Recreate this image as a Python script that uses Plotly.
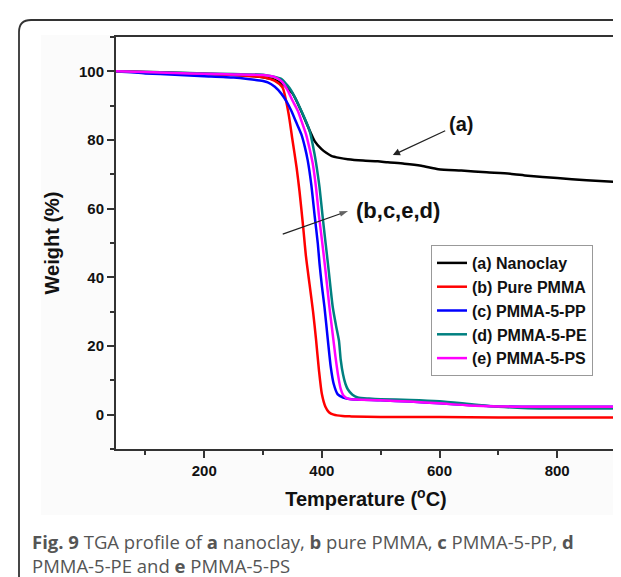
import plotly.graph_objects as go

# ---------------- data ----------------
names = ["(a) Nanoclay", "(b) Pure PMMA", "(c) PMMA-5-PP", "(d) PMMA-5-PE", "(e) PMMA-5-PS"]
colors = ["#000000", "#ff0000", "#0000ff", "#008080", "#ff00ff"]

t_a = [50, 100, 150, 200, 250, 300, 320, 335, 350, 365, 380, 388, 399, 408, 416, 430, 444, 470,
       495, 512, 540, 569, 598, 637, 680, 720, 750, 800, 850, 900]
w_a = [100, 99.8, 99.6, 99.3, 99.0, 98.3, 97.5, 96.0, 93.6, 88.4, 82.5, 79.6, 77.4, 76.2, 75.4,
       74.8, 74.4, 74.0, 73.8, 73.5, 73.1, 72.5, 71.5, 71.1, 70.6, 70.2, 69.6, 68.9, 68.3, 67.8]

t_b = [50, 100, 150, 200, 250, 300, 320, 333, 343, 350, 357, 362, 368, 373, 379, 385, 390, 395,
       400, 406, 412, 420, 435, 450, 500, 600, 700, 800, 900]
w_b = [100, 99.7, 99.4, 99.2, 98.9, 98.3, 97.2, 95.3, 88.0, 80.0, 72.0, 65.0, 55.0, 46.0, 38.0,
       30.0, 22.0, 13.0, 6.0, 2.3, 0.7, 0.0, -0.4, -0.5, -0.7, -0.7, -0.8, -0.8, -0.8]

t_c = [50, 100, 150, 200, 250, 274, 300, 308, 320, 331, 340, 348, 356, 365, 371, 376, 382, 388,
       393, 396, 400, 404.5, 410, 415, 420, 427, 436, 450, 500, 550, 600, 650, 700, 750, 800, 900]
w_c = [100, 99.4, 99.0, 98.6, 98.2, 97.8, 97.2, 96.8, 95.5, 93.5, 91.2, 88.5, 85.3, 81.7, 78.0,
       74.0, 67.0, 57.5, 50.0, 44.0, 37.5, 31.2, 22.0, 14.0, 9.0, 5.9, 5.0, 4.5, 4.2, 3.8, 3.3,
       2.8, 2.4, 2.3, 2.3, 2.3]

t_d = [50, 100, 150, 200, 250, 300, 331, 340, 348, 356, 365, 372, 379, 387.5, 393, 396, 402, 411,
       418.6, 424, 429, 432, 436, 440, 444, 452, 461, 480, 500, 550, 600, 650, 700, 750, 800, 900]
w_d = [100, 99.8, 99.6, 99.4, 99.2, 99.0, 97.8, 96.2, 94.4, 91.8, 88.5, 85.8, 82.7, 75.9, 70.0,
       66.2, 56.5, 42.9, 31.2, 26.0, 21.6, 16.0, 11.7, 9.0, 7.4, 5.8, 5.0, 4.7, 4.5, 4.3, 3.9,
       3.1, 2.3, 1.9, 1.8, 1.8]

t_e = [50, 100, 150, 200, 250, 300, 320, 332, 342, 350, 359, 366, 373, 379, 384.6, 390, 395, 400,
       405.5, 413, 418, 423, 428, 432, 437, 445, 460, 500, 550, 600, 650, 700, 750, 800, 900]
w_e = [100, 99.8, 99.5, 99.3, 99.1, 98.9, 98.3, 97.0, 94.4, 91.5, 88.5, 85.2, 81.7, 77.5, 73.0,
       66.2, 58.0, 51.0, 42.9, 31.0, 24.0, 17.0, 11.0, 7.5, 5.5, 4.6, 4.4, 4.2, 3.8, 3.3, 2.7,
       2.4, 2.3, 2.3, 2.3]

temps = [t_a, t_b, t_c, t_d, t_e]
weights = [w_a, w_b, w_c, w_d, w_e]

x_ticks = [200, 400, 600, 800]
y_ticks = [0, 20, 40, 60, 80, 100]

# annotation anchor points (data units)
label_a = dict(text="(a)", x=636, y=84.8, target_x=520.6, target_y=75.6)
label_bced = dict(text="(b,c,e,d)", x=530, y=59.5)
arrow_bced_x = [333.5, 444.5]
arrow_bced_y = [52.6, 59.3]

# ---------------- figure ----------------
W, H = 621, 577
L, R, T, B = 108, 13, 29, 136
PW, PH = W - L - R, H - T - B


def px(xp):
    return (xp - L) / PW


def py(yp):
    return (H - B - yp) / PH


fig = go.Figure()
for n, c, t, w in zip(names, colors, temps, weights):
    fig.add_trace(go.Scatter(x=t, y=w, mode="lines", name=n, legendgroup=n,
                             line=dict(color=c, width=2.5, shape="spline", smoothing=0.6)))

# arrow pointing at the group of polymer curves
fig.add_trace(go.Scatter(x=arrow_bced_x, y=arrow_bced_y, mode="lines+markers", showlegend=False,
                         hoverinfo="skip", line=dict(color="#222222", width=1.3),
                         marker=dict(symbol="arrow", size=[0, 9], angleref="previous",
                                     color="#222222", line=dict(width=0))))

ARIAL = "Arial, Liberation Sans, sans-serif"

axis_common = dict(showline=True, linecolor="#333333", linewidth=2, mirror=True,
                   ticks="outside", ticklen=7, tickwidth=1.5, tickcolor="#333333",
                   showgrid=False, zeroline=False,
                   tickfont=dict(family=ARIAL, size=15, color="#111111", weight="bold"))

fig.update_xaxes(range=[50, 900], tickvals=x_ticks,
                 minor=dict(ticks="outside", ticklen=4, tickwidth=1.5, tickcolor="#333333", dtick=100, tick0=0),
                 title=dict(text="Temperature (<sup>o</sup>C)",
                            font=dict(family=ARIAL, size=20, color="#111111", weight="bold"),
                            standoff=14),
                 **axis_common)
fig.update_yaxes(range=[-10, 110], tickvals=y_ticks,
                 minor=dict(ticks="outside", ticklen=4, tickwidth=1.5, tickcolor="#333333", dtick=20, tick0=10),
                 title=dict(text="Weight (%)",
                            font=dict(family=ARIAL, size=20, color="#111111", weight="bold"),
                            standoff=14),
                 **axis_common)

annotations = [
    dict(x=label_a["target_x"], y=label_a["target_y"], ax=label_a["x"], ay=label_a["y"],
         xref="x", yref="y", axref="x", ayref="y", text=label_a["text"], showarrow=True,
         arrowhead=2, arrowsize=1.1, arrowwidth=1.3, arrowcolor="#222222", standoff=0,
         borderpad=3, font=dict(family=ARIAL, size=20, color="#111111", weight="bold")),
    dict(x=label_bced["x"], y=label_bced["y"], xref="x", yref="y", text=label_bced["text"],
         showarrow=False, font=dict(family=ARIAL, size=22, color="#111111", weight="bold")),
    dict(x=px(22), y=py(533), xref="paper", yref="paper", xanchor="left", yanchor="middle",
         text="<b>Fig. 9</b> TGA profile of <b>a</b> nanoclay, <b>b</b> pure PMMA, <b>c</b> PMMA-5-PP, <b>d</b>",
         showarrow=False, font=dict(family="Open Sans", size=18.5, color="#555555")),
    dict(x=px(22), y=py(557), xref="paper", yref="paper", xanchor="left", yanchor="middle",
         text="PMMA-5-PE and <b>e</b> PMMA-5-PS",
         showarrow=False, font=dict(family="Open Sans", size=18.5, color="#555555")),
]

frame_path = (f"M {px(11)},{py(600)} L {px(11)},{py(24)} Q {px(11)},{py(12)} {px(23)},{py(12)} "
              f"L {px(640)},{py(12)}")

fig.update_layout(
    width=W, height=H,
    margin=dict(l=L, r=R, t=T, b=B),
    paper_bgcolor="white", plot_bgcolor="white",
    showlegend=True,
    legend=dict(x=px(423), y=py(237), xanchor="left", yanchor="top",
                bgcolor="white", bordercolor="#999999", borderwidth=1,
                font=dict(family=ARIAL, size=16, color="#111111", weight="bold"),
                tracegroupgap=0, itemwidth=30),
    annotations=annotations,
    shapes=[
        dict(type="rect", xref="paper", yref="paper", x0=px(33), x1=px(640), y0=py(27), y1=py(507),
             fillcolor="#fbfbfb", line=dict(width=0), layer="below"),
        dict(type="rect", xref="paper", yref="paper", x0=0, x1=1, y0=0, y1=1,
             fillcolor="white", line=dict(width=0), layer="below"),
        dict(type="path", path=frame_path, xref="paper", yref="paper",
             line=dict(color="#333333", width=1.8), layer="above"),
    ],
)

fig.write_html("out.html")
